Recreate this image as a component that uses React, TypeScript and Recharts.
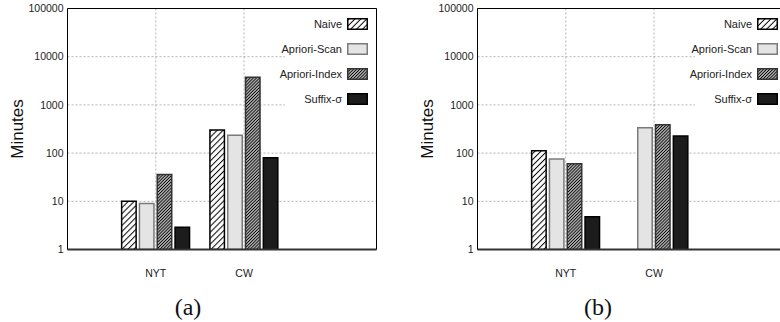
import React from 'react';
import { BarChart, Bar, XAxis, YAxis, CartesianGrid, Legend } from 'recharts';

const categories = ['NYT', 'CW'];
const seriesNames = ['Naive', 'Apriori-Scan', 'Apriori-Index', 'Suffix-σ'];
const yTicks = [1, 10, 100, 1000, 10000, 100000];

// Panel (a)
const naiveA = [10, 300];
const scanA = [9, 235];
const indexA = [36, 3750];
const suffixA = [2.9, 80];

// Panel (b)
const naiveB = [112, null];
const scanB = [75, 336];
const indexB = [60, 387];
const suffixB = [4.8, 225];

const FONT = '"Liberation Sans", Arial, Helvetica, sans-serif';
const seriesStyles = [
  { fill: 'url(#pNaive)', stroke: '#000' },
  { fill: '#e4e4e4', stroke: '#7a7a7a' },
  { fill: 'url(#pIndex)', stroke: '#333' },
  { fill: '#1c1c1c', stroke: '#000' },
];

const buildRows = (series: (number | null)[][]) =>
  categories.map((name, ci) => {
    const row: any = { name };
    series.forEach((s, si) => {
      row['s' + si] = s[ci];
    });
    return row;
  });

const dataA = buildRows([naiveA, scanA, indexA, suffixA]);
const dataB = buildRows([naiveB, scanB, indexB, suffixB]);

const LegendBox = () => (
  <div
    style={{
      position: 'relative',
      width: 91,
      height: 103,
      background: '#fff',
      fontFamily: FONT,
      fontSize: 11,
      color: '#222',
    }}
  >
    {seriesNames.map((n, i) => (
      <div
        key={n}
        style={{
          position: 'absolute',
          left: -20,
          width: 102.5,
          top: 15.3 + i * 24.8 - 6,
          height: 12,
          display: 'flex',
          alignItems: 'center',
          justifyContent: 'flex-end',
          whiteSpace: 'nowrap',
        }}
      >
        <span style={{ lineHeight: '12px' }}>{n}</span>
        <svg width={21} height={12} style={{ marginLeft: 4.5, display: 'block' }}>
          <rect
            x={0.75}
            y={0.75}
            width={19.5}
            height={10.5}
            fill={seriesStyles[i].fill}
            stroke={seriesStyles[i].stroke}
            strokeWidth={1.5}
          />
        </svg>
      </div>
    ))}
  </div>
);

const Panel = ({ data, caption, left }: { data: any[]; caption: string; left: number }) => (
  <div style={{ position: 'absolute', left, top: 0, width: 390, height: 322 }}>
    <BarChart
      width={390}
      height={322}
      data={data}
      margin={{ top: 7.5, right: 12.5, bottom: 42.5, left: 7.5 }}
      barSize={14.5}
      barGap={3.3}
    >
      <CartesianGrid stroke="#a0a0a0" strokeDasharray="2 2" strokeWidth={0.8} />
      <XAxis
        dataKey="name"
        padding={{ left: 44.14, right: 88.29 }}
        axisLine={{ stroke: '#333', strokeWidth: 2 }}
        tickLine={false}
        tickSize={0}
        tickMargin={20}
        height={30}
        tick={{ fontSize: 10.5, fontFamily: FONT, fill: '#222' }}
      />
      <XAxis
        xAxisId="top"
        orientation="top"
        dataKey="name"
        height={1}
        tick={false}
        tickLine={false}
        axisLine={{ stroke: '#000', strokeWidth: 1 }}
      />
      <YAxis
        type="number"
        scale="log"
        domain={[1, 100000]}
        ticks={yTicks}
        allowDataOverflow
        interval={0}
        width={60}
        tickLine={false}
        tickSize={2}
        tickMargin={2}
        axisLine={{ stroke: '#000', strokeWidth: 1 }}
        tick={{ fontSize: 10.5, fontFamily: FONT, fill: '#222' }}
        label={{
          value: 'Minutes',
          angle: -90,
          position: 'center',
          dx: -21,
          fontSize: 17,
          fontFamily: FONT,
          fill: '#111',
        }}
      />
      <YAxis
        yAxisId="right"
        orientation="right"
        type="number"
        domain={[0, 1]}
        width={1}
        tick={false}
        tickLine={false}
        axisLine={{ stroke: '#000', strokeWidth: 1 }}
      />
      <Legend
        layout="horizontal"
        verticalAlign="middle"
        align="center"
        content={() => <LegendBox />}
        wrapperStyle={{ left: 285, top: 9, width: 91, height: 103, bottom: 'auto', right: 'auto' }}
      />
      {seriesNames.map((n, i) => (
        <Bar
          key={n}
          dataKey={'s' + i}
          name={n}
          fill={seriesStyles[i].fill}
          stroke={seriesStyles[i].stroke}
          strokeWidth={1.5}
          isAnimationActive={false}
        />
      ))}
    </BarChart>
    <svg
      width={390}
      height={322}
      style={{ position: 'absolute', left: 0, top: 0, pointerEvents: 'none' }}
    >
      <text
        x={188}
        y={314.5}
        textAnchor="middle"
        fontFamily='"Liberation Serif", "Times New Roman", serif'
        fontSize={24}
        fill="#111"
      >
        {caption}
      </text>
    </svg>
  </div>
);

export default function App() {
  return (
    <div
      style={{
        position: 'absolute',
        left: 0,
        top: 0,
        width: 780,
        height: 322,
        overflow: 'hidden',
        background: '#fff',
      }}
    >
      <svg width={0} height={0} style={{ position: 'absolute' }}>
        <defs>
          <pattern
            id="pNaive"
            patternUnits="userSpaceOnUse"
            width={4.2}
            height={4.2}
            patternTransform="rotate(45)"
          >
            <rect width={4.2} height={4.2} fill="#fff" />
            <line x1={2.1} y1={0} x2={2.1} y2={4.2} stroke="#000" strokeWidth={1} />
          </pattern>
          <pattern
            id="pIndex"
            patternUnits="userSpaceOnUse"
            width={2.2}
            height={2.2}
            patternTransform="rotate(45)"
          >
            <rect width={2.2} height={2.2} fill="#fff" />
            <line x1={1.1} y1={0} x2={1.1} y2={2.2} stroke="#000" strokeWidth={1.25} />
          </pattern>
        </defs>
      </svg>
      <Panel data={dataA} caption="(a)" left={0} />
      <Panel data={dataB} caption="(b)" left={410} />
    </div>
  );
}
